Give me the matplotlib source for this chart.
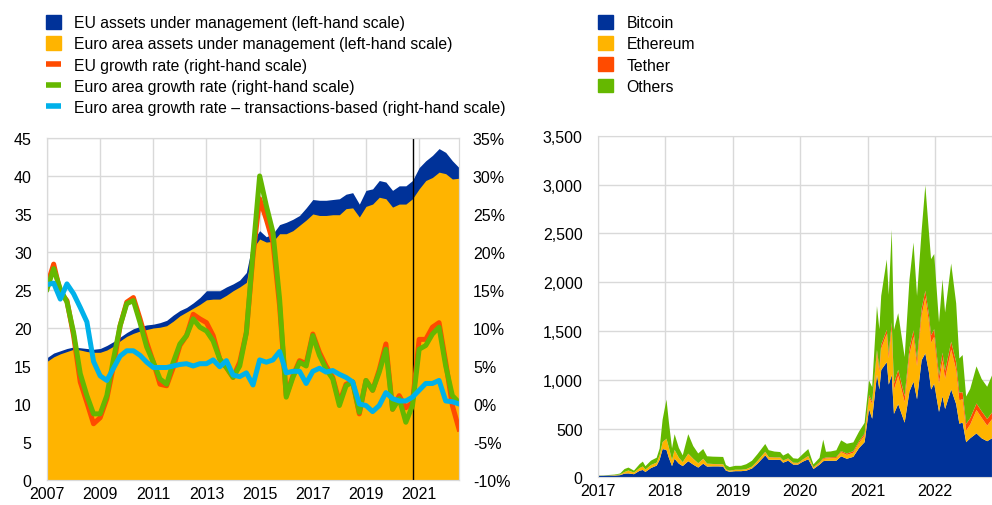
import matplotlib
matplotlib.use("Agg")
import matplotlib.pyplot as plt
import matplotlib.ticker as mticker
import matplotlib.dates as mdates
from matplotlib.patches import Patch
from matplotlib.lines import Line2D
import pandas as pd

plt.rcParams["font.family"] = ["Liberation Sans", "DejaVu Sans"]
plt.rcParams["font.size"] = 11

BLUE = "#003299"
YELLOW = "#FFB400"
RED = "#FF4B00"
GREEN = "#65B800"
CYAN = "#00B1EA"
GRID = "#d9d9d9"

# ---- left panel: quarterly, 2007Q1 - 2022Q3 ----
quarters = pd.period_range("2007Q1", "2022Q3", freq="Q")

eu_aum = [16.1, 16.7, 17.0, 17.3, 17.5, 17.4, 17.3, 17.2, 17.3, 17.7, 18.2, 18.8, 19.4, 19.9,
          20.2, 20.4, 20.5, 20.7, 21.0, 21.7, 22.3, 22.7, 23.3, 24.0, 24.9, 24.9, 24.9, 25.4,
          25.8, 26.3, 27.3, 31.5, 32.8, 32.0, 32.4, 33.6, 33.9, 34.3, 34.8, 35.8, 36.9, 36.8,
          36.8, 36.9, 37.0, 37.6, 37.8, 36.3, 38.1, 38.3, 39.4, 39.2, 38.1, 38.7, 38.7, 39.4,
          41.1, 42.0, 42.7, 43.6, 43.1, 42.0, 41.1]
ea_aum = [15.6, 16.2, 16.6, 16.9, 17.2, 17.1, 16.9, 16.8, 16.8, 17.1, 17.6, 18.3, 18.9, 19.3,
          19.6, 19.8, 20.0, 20.1, 20.3, 20.9, 21.6, 22.1, 22.6, 23.1, 23.7, 23.8, 23.8, 24.3,
          24.9, 25.4, 26.0, 30.5, 31.7, 31.3, 31.4, 32.4, 32.4, 32.8, 33.5, 34.2, 35.0, 34.8,
          34.8, 34.9, 34.9, 35.7, 35.8, 34.6, 36.0, 36.3, 37.2, 37.0, 35.9, 36.3, 36.3, 37.0,
          38.3, 39.4, 39.8, 40.5, 40.3, 39.6, 39.7]
eu_growth = [15.6, 18.4, 14.7, 13.6, 9.0, 2.9, 0.2, -2.6, -1.8, 0.7, 5.0, 10.3, 13.4, 14.0,
             11.2, 8.1, 5.5, 2.6, 2.4, 4.8, 7.7, 9.0, 11.8, 11.2, 10.7, 9.0, 5.9, 4.8, 3.5,
             5.5, 9.4, 19.5, 27.0, 24.3, 21.3, 12.9, 1.1, 3.7, 5.7, 5.3, 9.2, 6.8, 5.0, 3.5,
             0.2, 2.6, 2.9, -1.3, 3.1, 1.8, 4.5, 7.9, -0.7, 1.1, -0.5, 0.2, 8.5, 8.5, 10.1,
             10.7, 5.5, -0.2, -3.3]
ea_growth = [15.1, 17.8, 15.1, 13.4, 9.4, 4.0, 1.1, -1.3, -1.3, 1.1, 5.9, 10.3, 13.2, 13.6,
             10.7, 7.5, 5.5, 3.3, 2.6, 5.5, 7.9, 9.0, 11.2, 10.1, 9.6, 8.3, 5.9, 4.8, 3.5,
             5.0, 9.4, 20.0, 30.0, 26.1, 22.6, 13.8, 0.9, 3.5, 5.5, 5.0, 9.0, 6.4, 4.6, 3.3,
             -0.2, 2.4, 2.9, -1.1, 3.1, 1.8, 4.2, 7.2, -0.7, 0.7, -2.4, -0.2, 7.2, 7.7, 9.2,
             10.1, 5.0, 1.1, 0.2]
ea_growth_tx = [15.7, 15.9, 13.8, 15.8, 14.5, 12.7, 10.8, 5.6, 3.7, 3.1, 4.7, 6.3, 7.0, 7.0,
                6.4, 5.5, 4.8, 4.8, 4.8, 5.0, 5.2, 5.3, 5.0, 5.3, 5.3, 5.8, 4.9, 5.7, 3.8,
                3.6, 4.1, 2.5, 5.8, 5.5, 5.8, 6.9, 4.1, 4.3, 4.3, 2.7, 4.3, 4.7, 4.2, 4.4,
                3.9, 3.5, 2.9, 0.0, -0.2, -1.0, -0.2, 1.5, 0.7, 0.4, 0.4, 0.9, 1.8, 2.7, 2.7,
                3.1, 0.4, 0.3, 0.0]
marker_year = 2020.78

# ---- right panel: crypto market capitalisation ----
dates = ["2017-01-01", "2017-02-01", "2017-03-01", "2017-04-01", "2017-05-01", "2017-05-25",
         "2017-06-15", "2017-07-15", "2017-08-15", "2017-09-01", "2017-09-15", "2017-10-15",
         "2017-11-15", "2017-12-01", "2017-12-17",
         "2018-01-07", "2018-01-20", "2018-02-06", "2018-02-20", "2018-03-15", "2018-04-05",
         "2018-05-05", "2018-06-01", "2018-06-28", "2018-07-25", "2018-08-15", "2018-09-15",
         "2018-10-15", "2018-11-10", "2018-11-25", "2018-12-15",
         "2019-01-15", "2019-02-15", "2019-03-15", "2019-04-15", "2019-05-15", "2019-06-26",
         "2019-07-15", "2019-08-15", "2019-09-15", "2019-10-01", "2019-10-28", "2019-11-25",
         "2019-12-20",
         "2020-01-15", "2020-02-14", "2020-03-13", "2020-04-15", "2020-05-05", "2020-05-20",
         "2020-06-15", "2020-07-15", "2020-08-10", "2020-09-10", "2020-10-15", "2020-11-15",
         "2020-12-15",
         "2021-01-08", "2021-01-25", "2021-02-20", "2021-03-05", "2021-03-15", "2021-04-14",
         "2021-04-25", "2021-05-11", "2021-05-23", "2021-06-15", "2021-07-20", "2021-08-15",
         "2021-09-06", "2021-09-25", "2021-10-20", "2021-11-09", "2021-11-28", "2021-12-10",
         "2021-12-27",
         "2022-01-22", "2022-02-10", "2022-02-24", "2022-03-29", "2022-04-25", "2022-05-12",
         "2022-05-30", "2022-06-18", "2022-07-10", "2022-08-13", "2022-09-10", "2022-10-10",
         "2022-11-05"]
bitcoin = [15, 16, 19, 18, 22, 38, 40, 32, 68, 75, 55, 95, 120, 180, 290,
           280, 200, 115, 190, 140, 115, 165, 130, 100, 140, 110, 112, 112, 110, 68, 57,
           63, 63, 68, 90, 140, 225, 180, 180, 180, 150, 170, 130, 130,
           160, 185, 85, 130, 165, 170, 170, 170, 215, 190, 210, 300, 360,
           700, 600, 1050, 900, 1100, 1180, 950, 1050, 650, 750, 560, 880, 980, 800, 1200,
           1270, 1080, 900, 960,
           670, 830, 700, 900, 750, 550, 560, 360, 400, 450, 400, 370, 400]
ethereum = [1, 1, 2, 5, 7, 17, 30, 17, 28, 36, 24, 30, 30, 45, 70,
            115, 105, 60, 90, 60, 38, 75, 58, 42, 48, 28, 22, 21, 22, 12, 9,
            13, 13, 14, 17, 25, 33, 24, 20, 20, 19, 20, 16, 14,
            18, 30, 13, 18, 23, 23, 26, 27, 43, 40, 42, 52, 68,
            120, 150, 220, 180, 220, 290, 270, 480, 250, 290, 210, 380, 460, 340, 460,
            570, 520, 480, 480,
            290, 370, 310, 410, 350, 240, 240, 120, 140, 240, 210, 160, 195]
tether = [0, 0, 0, 0, 0, 0, 0, 0, 0, 0, 0, 1, 1, 1, 1,
          1.5, 2, 2, 2, 2, 2.3, 2.3, 2.5, 2.5, 2.5, 2.8, 2.8, 2.3, 1.8, 1.8, 1.8,
          2, 2, 2.1, 2.8, 2.9, 3.7, 4, 4, 4, 4, 4, 4, 4,
          4.5, 4.6, 4.7, 6.5, 8, 9, 9.5, 10, 11, 14, 16, 17, 20,
          23, 25, 35, 38, 40, 42, 50, 58, 60, 62, 62, 64, 66, 68, 69, 72, 73, 76, 78,
          78, 78, 79, 81, 82, 78, 73, 68, 66, 67, 68, 68, 69]
others = [2, 2, 3, 5, 10, 30, 30, 20, 40, 50, 35, 45, 50, 70, 230,
          400, 260, 120, 160, 100, 70, 200, 130, 100, 100, 75, 75, 75, 75, 45, 37,
          40, 40, 50, 60, 70, 80, 70, 60, 55, 50, 55, 45, 42,
          55, 70, 30, 45, 190, 60, 60, 70, 110, 100, 90, 100, 110,
          150, 150, 450, 400, 500, 720, 600, 950, 550, 580, 400, 700, 900, 650, 800,
          1080, 850, 780, 770,
          550, 750, 600, 800, 600, 350, 380, 280, 300, 380, 330, 330, 380]

# ---------------------------------------------------------------
fig = plt.figure(figsize=(9.92, 5.06), dpi=100)

# left chart
ax = fig.add_axes([0.0474, 0.0494, 0.4153, 0.676])
x = [q.year + (q.quarter - 1) / 4 for q in quarters]
ax.fill_between(x, 0, eu_aum, color=BLUE, lw=0, zorder=2)
ax.fill_between(x, 0, ea_aum, color=YELLOW, lw=0, zorder=2)
ax.axvline(marker_year, color="black", lw=1, zorder=3)
ax.set_xlim(x[0], x[-1])
ax.set_ylim(0, 45)
ax.set_yticks(range(0, 46, 5))
ax.set_xticks(range(2007, 2022, 2))
ax.grid(True, color=GRID, lw=1, zorder=0)
ax.set_axisbelow(True)
ax.tick_params(length=0, labelsize=11.5)
ax.tick_params(axis="y", pad=11)
ax.tick_params(axis="x", pad=4)
for s in ax.spines.values():
    s.set_color(GRID)

ax2 = ax.twinx()
ax2.plot(x, eu_growth, color=RED, lw=3.6, solid_joinstyle="round")
ax2.plot(x, ea_growth, color=GREEN, lw=3.6, solid_joinstyle="round")
ax2.plot(x, ea_growth_tx, color=CYAN, lw=3.6, solid_joinstyle="round")
ax2.set_ylim(-10, 35)
ax2.set_yticks(range(-10, 36, 5))
ax2.yaxis.set_major_formatter(mticker.FuncFormatter(lambda v, p: f"{int(v)}%"))
ax2.tick_params(length=0, labelsize=11.5, pad=10)
for s in ax2.spines.values():
    s.set_color(GRID)

leg_handles = [
    Patch(color=BLUE, label="EU assets under management (left-hand scale)"),
    Patch(color=YELLOW, label="Euro area assets under management (left-hand scale)"),
    Line2D([], [], color=RED, lw=4, solid_capstyle="butt", label="EU growth rate (right-hand scale)"),
    Line2D([], [], color=GREEN, lw=4, solid_capstyle="butt", label="Euro area growth rate (right-hand scale)"),
    Line2D([], [], color=CYAN, lw=4, solid_capstyle="butt",
           label="Euro area growth rate \u2013 transactions-based (right-hand scale)"),
]
fig.legend(handles=leg_handles, loc="upper left", bbox_to_anchor=(0.046, 0.968),
           frameon=False, fontsize=11.3, handlelength=0.95, handleheight=0.95,
           handletextpad=0.85, labelspacing=0.38, borderpad=0, borderaxespad=0)

# right chart
bx = fig.add_axes([0.6028, 0.0547, 0.3972, 0.675])
d = pd.to_datetime(dates)
bx.stackplot(d, bitcoin, ethereum, tether, others,
             colors=[BLUE, YELLOW, RED, GREEN], lw=0, zorder=2)
bx.set_xlim(d[0], d[-1])
bx.set_ylim(0, 3500)
bx.set_yticks(range(0, 3501, 500))
bx.yaxis.set_major_formatter(mticker.FuncFormatter(lambda v, p: format(int(v), ",")))
bx.xaxis.set_major_locator(mdates.YearLocator())
bx.xaxis.set_major_formatter(mdates.DateFormatter("%Y"))
bx.grid(True, color=GRID, lw=1, zorder=0)
bx.set_axisbelow(True)
bx.tick_params(length=0, labelsize=11.5)
bx.tick_params(axis="y", pad=11)
bx.tick_params(axis="x", pad=4)
for s in bx.spines.values():
    s.set_color(GRID)

crypto_handles = [
    Patch(color=BLUE, label="Bitcoin"),
    Patch(color=YELLOW, label="Ethereum"),
    Patch(color=RED, label="Tether"),
    Patch(color=GREEN, label="Others"),
]
fig.legend(handles=crypto_handles, loc="upper left", bbox_to_anchor=(0.603, 0.968),
           frameon=False, fontsize=11.3, handlelength=0.95, handleheight=0.95,
           handletextpad=0.85, labelspacing=0.38, borderpad=0, borderaxespad=0)

fig.savefig("out.png", dpi=100)
